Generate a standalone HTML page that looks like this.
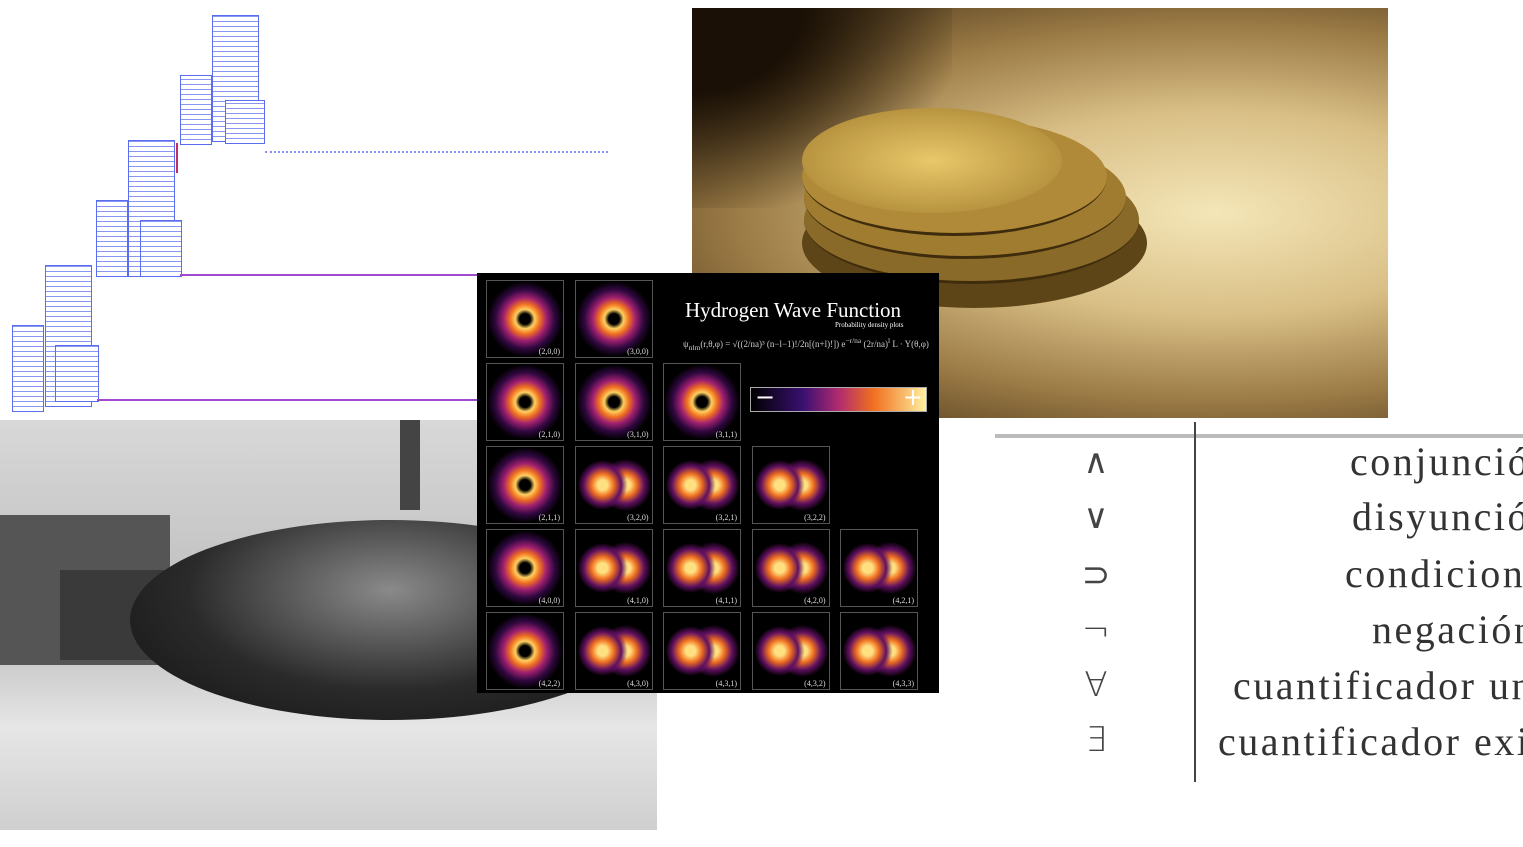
<!DOCTYPE html>
<html><head><meta charset="utf-8"><style>
body{margin:0;width:1523px;height:847px;background:#fff;position:relative;overflow:hidden;font-family:"Liberation Serif",serif}
.a{position:absolute}
.blk{position:absolute;border:1px solid #5a6cf0;background:repeating-linear-gradient(0deg,#fff 0 4px,#8a96f4 4px 5px),#fff}
.cell{position:absolute;width:76px;height:76px;border:1px solid #555;background:#000;overflow:hidden}
.cell span{position:absolute;right:3px;bottom:1px;color:#ddd;font-size:8px}
.orb{position:absolute;border-radius:50%}
.sym{position:absolute;left:1078px;width:36px;text-align:center;font-size:34px;color:#444;font-family:"DejaVu Sans",sans-serif;font-weight:200}
.txt{position:absolute;font-size:40px;letter-spacing:2.5px;color:#333;white-space:nowrap}
</style></head><body>
<!-- circuit diagram -->
<div class="a" style="left:0;top:0;width:660px;height:420px">
 <div class="blk" style="left:12px;top:325px;width:30px;height:85px"></div>
 <div class="blk" style="left:45px;top:265px;width:45px;height:140px"></div>
 <div class="blk" style="left:55px;top:345px;width:42px;height:55px"></div>
 <div class="blk" style="left:96px;top:200px;width:30px;height:75px"></div>
 <div class="blk" style="left:128px;top:140px;width:45px;height:135px"></div>
 <div class="blk" style="left:140px;top:220px;width:40px;height:55px"></div>
 <div class="blk" style="left:180px;top:75px;width:30px;height:68px"></div>
 <div class="blk" style="left:212px;top:15px;width:45px;height:125px"></div>
 <div class="blk" style="left:225px;top:100px;width:38px;height:42px"></div>
 <div class="a" style="left:97px;top:399px;width:380px;border-top:2px solid #a04ad0"></div>
 <div class="a" style="left:180px;top:274px;width:300px;border-top:2px solid #a04ad0"></div>
 <div class="a" style="left:265px;top:151px;width:343px;border-top:2px dotted #8a8ef0"></div>
 <div class="a" style="left:176px;top:143px;height:30px;border-left:2px solid #c03060"></div>
</div>
<!-- coins photo -->
<div class="a" style="left:692px;top:8px;width:696px;height:410px;overflow:hidden;background:radial-gradient(ellipse at 75% 50%,#f4e6b8 0%,#d9bf86 35%,#9a7a45 65%,#3a2812 100%)">
 <div class="a" style="left:0;top:0;width:260px;height:200px;background:radial-gradient(ellipse at 0 0,#1a1005 30%,transparent 75%)"></div>
 <div class="orb" style="left:110px;top:170px;width:345px;height:130px;background:#5e4518"></div>
 <div class="orb" style="left:112px;top:148px;width:335px;height:125px;background:#8a6a28;border-bottom:3px solid #3e2c0c"></div>
 <div class="orb" style="left:112px;top:128px;width:322px;height:120px;background:#a07c30;border-bottom:3px solid #3e2c0c"></div>
 <div class="orb" style="left:110px;top:110px;width:305px;height:115px;background:#b08a38;border-bottom:3px solid #3e2c0c"></div>
 <div class="orb" style="left:110px;top:100px;width:260px;height:105px;background:radial-gradient(ellipse,#e8c86a,#b89440 70%,#705418)"></div>
</div>
<!-- bomb photo -->
<div class="a" style="left:0;top:420px;width:657px;height:410px;overflow:hidden;background:linear-gradient(180deg,#d8d8d8,#bcbcbc 50%,#e6e6e6 75%,#cfcfcf)">
 <div class="a" style="left:0;top:95px;width:170px;height:150px;background:#555"></div>
 <div class="a" style="left:60px;top:150px;width:200px;height:90px;background:#3a3a3a"></div>
 <div class="orb" style="left:130px;top:100px;width:520px;height:200px;background:radial-gradient(ellipse at 50% 35%,#8a8a8a,#2a2a2a 55%,#111)"></div>
 <div class="a" style="left:400px;top:0;width:20px;height:90px;background:#444"></div>
</div>
<!-- hydrogen wave function -->
<div class="a" style="left:477px;top:273px;width:462px;height:420px;background:#000"></div>
<div class="a" style="left:685px;top:298px;color:#fff;font-size:21px">Hydrogen Wave Function</div>
<div class="a" style="left:835px;top:321px;color:#fff;font-size:7px">Probability density plots</div>
<div class="a" style="left:683px;top:336px;color:#ccc;font-size:9px">ψ<sub>nlm</sub>(r,θ,φ) = √((2/na)³ (n−l−1)!/2n[(n+l)!]) e<sup>−r/na</sup> (2r/na)<sup>l</sup> L · Y(θ,φ)</div>
<div class="a" style="left:750px;top:387px;width:175px;height:23px;border:1px solid #aaa;background:linear-gradient(90deg,#000,#3a1070 30%,#b02a70 50%,#f07020 70%,#fff0a0)">
 <span class="a" style="left:4px;top:-5px;color:#fff;font-size:24px;font-family:'DejaVu Sans'">−</span>
 <span class="a" style="right:3px;top:-5px;color:#fff;font-size:24px;font-family:'DejaVu Sans'">+</span>
</div>
<div id="grid"></div>
<!-- logic table -->
<div class="a" style="left:995px;top:422px;width:528px;height:360px;overflow:hidden;background:#fff">
 <div class="a" style="left:0;top:12px;width:528px;height:4px;background:#bbb"></div>
 <div class="a" style="left:199px;top:0;width:2px;height:360px;background:#444"></div>
 <div class="txt" style="left:355px;top:16px">conjunción</div>
 <div class="txt" style="left:357px;top:71px">disyunción</div>
 <div class="txt" style="left:350px;top:128px">condicional</div>
 <div class="txt" style="left:377px;top:184px">negación</div>
 <div class="txt" style="left:238px;top:240px">cuantificador universal</div>
 <div class="txt" style="left:223px;top:296px">cuantificador existencial</div>
</div>
<div class="sym" style="top:442px">∧</div>
<div class="sym" style="top:497px">∨</div>
<div class="sym" style="top:555px">⊃</div>
<div class="sym" style="top:610px">¬</div>
<div class="sym" style="top:665px">∀</div>
<div class="sym" style="top:720px">∃</div>
<script>
const rows=[["(2,0,0)","(3,0,0)"],["(2,1,0)","(3,1,0)","(3,1,1)"],["(2,1,1)","(3,2,0)","(3,2,1)","(3,2,2)"],["(4,0,0)","(4,1,0)","(4,1,1)","(4,2,0)","(4,2,1)"],["(4,2,2)","(4,3,0)","(4,3,1)","(4,3,2)","(4,3,3)"]];
const g=document.getElementById('grid');
rows.forEach((r,i)=>r.forEach((lab,j)=>{
 const c=document.createElement('div');c.className='cell';
 
 
 c.style.left=(486+j*88.5)+'px';c.style.top=(280+i*83)+'px';
 c.style.background='radial-gradient(circle,#000 10%,#ffd060 18%,#f07020 28%,#a02070 40%,#300840 55%,#000 70%)';
 if(i>=2&&j>0)c.style.background='radial-gradient(circle at 35% 50%,#ffe080 8%,#f07020 18%,#601060 30%,transparent 40%),radial-gradient(circle at 65% 50%,#ffe080 8%,#f07020 18%,#601060 30%,#000 42%)';
 const s=document.createElement('span');s.textContent=lab;c.appendChild(s);g.appendChild(c);
}));
</script>
</body></html>
